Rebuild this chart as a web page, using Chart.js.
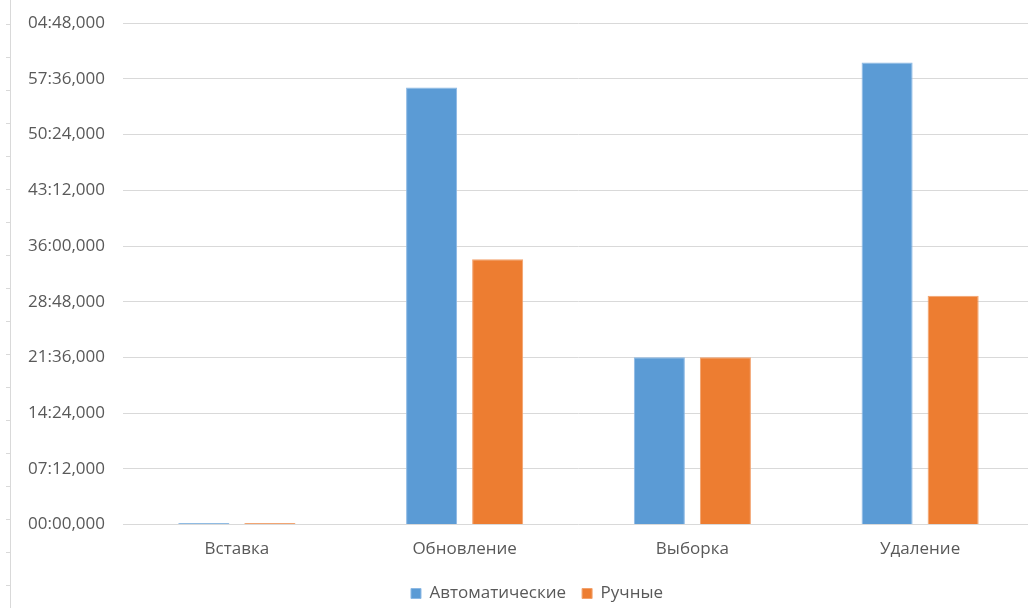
<!DOCTYPE html>
<html>
<head>
<meta charset="utf-8">
<script src="https://cdn.jsdelivr.net/npm/chart.js@4"></script>
<style>
  html, body { margin: 0; padding: 0; background: #fff; overflow: hidden; }
  #wrap { width: 1034px; height: 608px; }
</style>
</head>
<body>
<div id="wrap"><canvas id="timeBarChart" width="1034" height="608"></canvas></div>
<script>
// time in seconds
const categories = ["Вставка", "Обновление", "Выборка", "Удаление"];
const autoTimes = [12, 3390, 1298, 3584];
const manualTimes = [12, 2057, 1298, 1774];
const tickStep = 432; // 07:12
const yMax = 3888;

function fmtTime(sec) {
  const m = Math.floor(sec / 60) % 60;
  const s = Math.round(sec % 60);
  return String(m).padStart(2, '0') + ':' + String(s).padStart(2, '0') + ',000';
}

// light frame line with small ticks on the left edge
const leftFrame = {
  id: 'leftFrame',
  beforeDraw(chart) {
    const c = chart.ctx;
    c.save();
    c.strokeStyle = '#d9d9d9';
    c.lineWidth = 1;
    c.beginPath();
    c.moveTo(10.5, 0);
    c.lineTo(10.5, chart.height);
    for (let y = 24; y < chart.height; y += 33) {
      c.moveTo(6, y + 0.5);
      c.lineTo(10, y + 0.5);
    }
    c.stroke();
    c.restore();
  }
};

// legend sits a bit right of the canvas centre in the original
const legendShift = {
  id: 'legendShift',
  afterLayout(chart) {
    chart.legend.left += 20;
    chart.legend.right += 20;
  }
};

const ctx = document.getElementById("timeBarChart").getContext("2d");
Chart.defaults.font.family = "'Open Sans', 'Noto Sans', sans-serif";
Chart.defaults.color = '#595959';

new Chart(ctx, {
  type: 'bar',
  data: {
    labels: categories,
    datasets: [{
      label: 'Автоматические',
      data: autoTimes,
      backgroundColor: '#5b9bd5',
      borderColor: '#8db9e4',
      borderWidth: 1,
      categoryPercentage: 0.58,
      barPercentage: 0.773
    }, {
      label: 'Ручные',
      data: manualTimes,
      backgroundColor: '#ed7d31',
      borderColor: '#f2a26d',
      borderWidth: 1,
      categoryPercentage: 0.58,
      barPercentage: 0.773
    }]
  },
  options: {
    responsive: false,
    animation: false,
    layout: { padding: { top: 0, right: 0, bottom: -4, left: 0 } },
    scales: {
      x: {
        grid: { display: false },
        border: { display: false },
        ticks: { font: { size: 17 }, padding: 6, color: '#595959' }
      },
      y: {
        min: 0,
        max: yMax,
        border: { display: false },
        grid: { color: '#d9d9d9', drawTicks: true, tickLength: 5, tickColor: 'rgba(0,0,0,0)', lineWidth: 1 },
        afterFit: (scale) => { scale.width = 123; },
        ticks: {
          stepSize: tickStep,
          padding: 13,
          font: { size: 17 },
          color: '#595959',
          callback: (v) => fmtTime(v)
        }
      }
    },
    plugins: {
      legend: {
        position: 'bottom',
        title: { display: true, text: '', font: { size: 10, lineHeight: 0 }, padding: { top: 4, bottom: 0 } },
        labels: {
          boxWidth: 10,
          boxHeight: 10,
          padding: 16,
          font: { size: 17 },
          color: '#595959'
        }
      },
      tooltip: {
        callbacks: {
          label: (context) => `${context.dataset.label}: ${fmtTime(context.raw)}`
        }
      }
    }
  },
  plugins: [leftFrame, legendShift]
});
</script>
</body>
</html>
